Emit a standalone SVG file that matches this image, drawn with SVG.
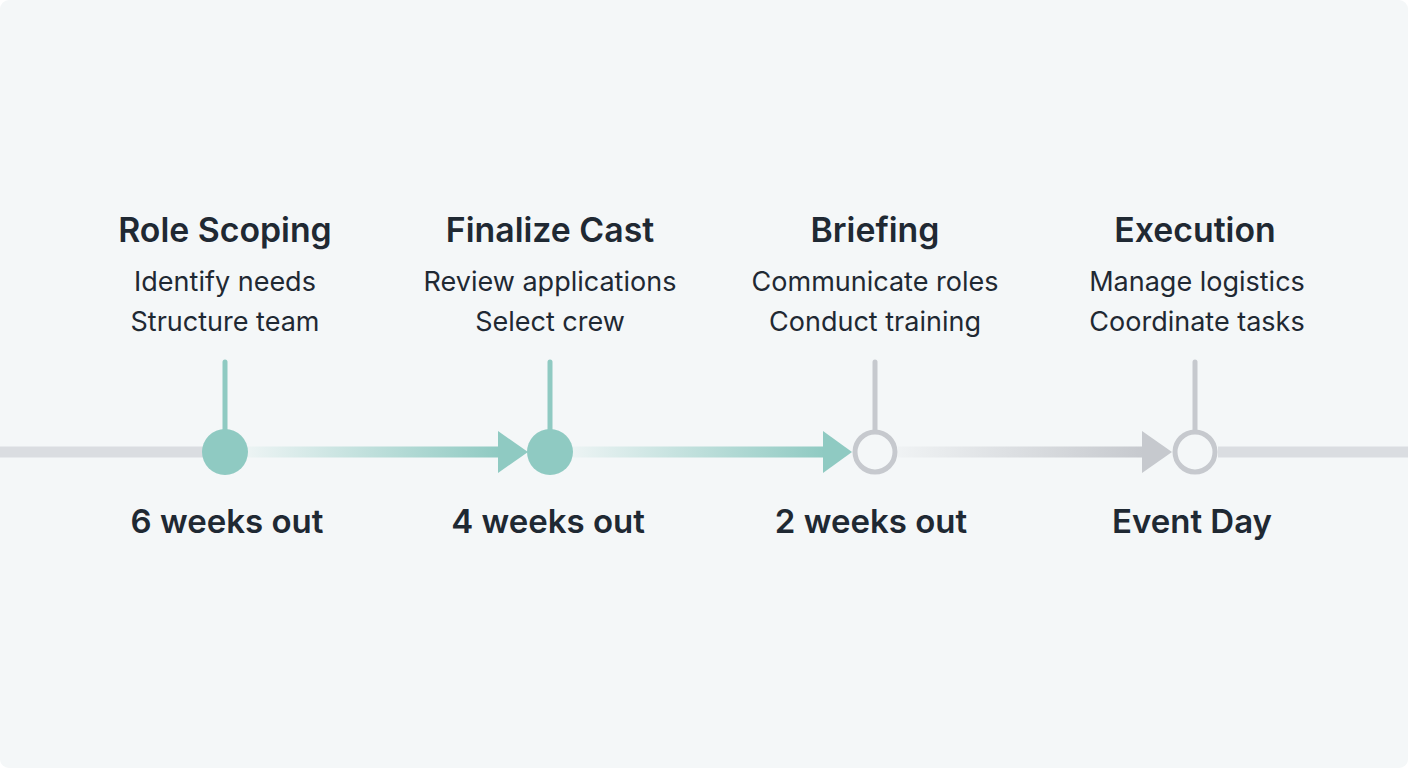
<svg xmlns="http://www.w3.org/2000/svg" width="1408" height="768" viewBox="0 0 1408 768">
<style>
.title{font-family:Inter,"Noto Sans",sans-serif;font-weight:600;font-size:33.8px;fill:#1f2933;text-anchor:middle}
.sub{font-family:Inter,"Noto Sans",sans-serif;font-weight:400;font-size:27px;fill:#1f2933;text-anchor:middle}
.date{font-family:Inter,"Noto Sans",sans-serif;font-weight:600;font-size:33px;fill:#1f2933;text-anchor:middle}
.stemT{stroke:#8fcac2;stroke-width:5;stroke-linecap:round}
.stemG{stroke:#c6c9ce;stroke-width:5;stroke-linecap:round}
</style>
<defs>
<linearGradient id="gT" x1="0" y1="0" x2="1" y2="0">
<stop offset="0" stop-color="#8fcac2" stop-opacity="0.08"/>
<stop offset="1" stop-color="#8fcac2"/>
</linearGradient>
<linearGradient id="gG" x1="0" y1="0" x2="1" y2="0">
<stop offset="0" stop-color="#c6c9ce" stop-opacity="0.1"/>
<stop offset="1" stop-color="#c6c9ce"/>
</linearGradient>
</defs>
<rect width="1408" height="768" fill="#ffffff"/>
<rect x="0" y="0" width="1408" height="768" rx="9" fill="#f4f7f8"/>
<g id="connectors">
<line x1="0" y1="452" x2="205" y2="452" stroke="#dadde1" stroke-width="11" stroke-linecap="round"/>
<rect x="248" y="446.5" width="252" height="11" fill="url(#gT)"/>
<polygon points="498,431 528,452 498,473" fill="#8fcac2"/>
<rect x="573" y="446.5" width="252" height="11" fill="url(#gT)"/>
<polygon points="823,431 852,452 823,473" fill="#8fcac2"/>
<rect x="898" y="446.5" width="246" height="11" fill="url(#gG)"/>
<polygon points="1142,431 1172,452 1142,473" fill="#c6c9ce"/>
<line x1="1218" y1="452" x2="1408" y2="452" stroke="#dadde1" stroke-width="11"/>
</g>
<g id="node1">
<line class="stemT" x1="225" y1="362" x2="225" y2="430"/>
<circle cx="225" cy="452" r="23" fill="#8fcac2"/>
<text class="title" x="225" y="242">Role Scoping</text>
<text class="sub" x="225" y="291">Identify needs</text>
<text class="sub" x="225" y="331">Structure team</text>
<text class="date" x="227" y="533">6 weeks out</text>
</g>
<g id="node2">
<line class="stemT" x1="550" y1="362" x2="550" y2="430"/>
<circle cx="550" cy="452" r="23" fill="#8fcac2"/>
<text class="title" x="550" y="242">Finalize Cast</text>
<text class="sub" x="550" y="291">Review applications</text>
<text class="sub" x="550" y="331">Select crew</text>
<text class="date" x="548" y="533">4 weeks out</text>
</g>
<g id="node3">
<line class="stemG" x1="875" y1="362" x2="875" y2="430"/>
<circle cx="875" cy="452" r="20" fill="#f4f7f8" stroke="#c6c9ce" stroke-width="5"/>
<text class="title" x="875" y="242">Briefing</text>
<text class="sub" x="875" y="291">Communicate roles</text>
<text class="sub" x="875" y="331">Conduct training</text>
<text class="date" x="871" y="533">2 weeks out</text>
</g>
<g id="node4">
<line class="stemG" x1="1195" y1="362" x2="1195" y2="430"/>
<circle cx="1195" cy="452" r="20" fill="#f4f7f8" stroke="#c6c9ce" stroke-width="5"/>
<text class="title" x="1195" y="242">Execution</text>
<text class="sub" x="1197" y="291">Manage logistics</text>
<text class="sub" x="1197" y="331">Coordinate tasks</text>
<text class="date" x="1192" y="533">Event Day</text>
</g>
</svg>
